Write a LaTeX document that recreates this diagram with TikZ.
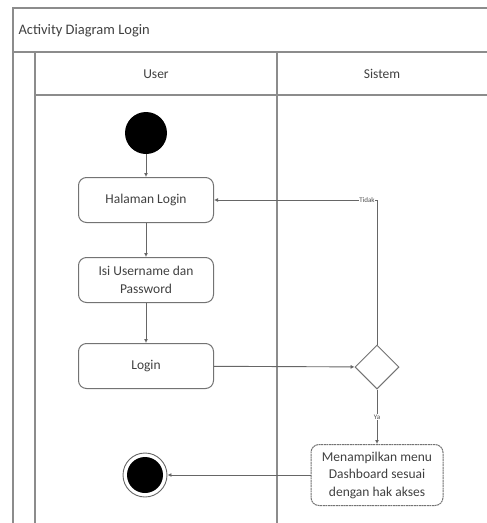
\documentclass[tikz,border=0pt]{standalone}
\usepackage{fontspec}
\setmainfont{Carlito}
\usetikzlibrary{shapes.geometric,arrows.meta}
\begin{document}
\begin{tikzpicture}[x=1pt,y=-1pt,
  frame/.style={draw=black!45,line width=1.3pt},
  txt/.style={font=\fontsize{13.5}{17.5}\selectfont,text=black!75},
  act/.style={txt,draw=black!55,line width=1pt,rounded corners=8pt,minimum width=135pt,minimum height=45pt,align=center},
  flow/.style={draw=black!60,line width=0.9pt,-{Latex[length=4pt,width=4pt]}},
  lbl/.style={font=\fontsize{7}{8}\selectfont,text=black!70,fill=white,inner sep=0.5pt}]
\useasboundingbox (0,0) rectangle (487,523);
% swimlane frame (open at the right and bottom)
\draw[frame] (13,523) -- (13,8) -- (487,8);
\draw[frame] (13,52) -- (487,52);
\draw[frame] (35,95) -- (487,95);
\draw[frame] (35,52) -- (35,523);
\draw[frame] (277,52) -- (277,523);
\node[txt,font=\fontsize{14.5}{16}\selectfont,anchor=west] (title) at (15,31) {Activity Diagram Login};
\node[txt] (laneU) at (156,74) {User};
\node[txt] (laneS) at (382,74) {Sistem};
% activity nodes
\node[circle,fill=black,minimum size=42pt,inner sep=0pt] (start) at (146,133) {};
\node[act] (halaman) at (146,200) {Halaman Login};
\node[act] (isi) at (146,280) {Isi Username dan\\Password};
\node[act] (login) at (146,366) {Login};
\node[diamond,draw=black!55,line width=1pt,fill=white,minimum width=44pt,minimum height=44pt,inner sep=0pt] (dec) at (377,367) {};
\node[act,minimum width=132pt,minimum height=61pt,dash pattern=on 2pt off 0.6pt] (menu) at (377,475) {Menampilkan menu\\Dashboard sesuai\\dengan hak akses};
\node[circle,draw=black!60,line width=0.9pt,fill=white,minimum size=44pt,inner sep=0pt] (end) at (145,475) {};
\node[circle,fill=black,minimum size=36pt,inner sep=0pt] (endin) at (145,475) {};
% connectors
\draw[flow] (start) -- (halaman);
\draw[flow] (halaman) -- (isi);
\draw[flow] (isi) -- (login);
\draw[flow] (login) -- (dec);
\coordinate (turn) at (377,200);
\draw[flow] (dec.north) -- (turn) -- (halaman.east);
\node[lbl] (tidak) at (367,200) {Tidak};
\draw[flow] (dec.south) -- (menu.north);
\node[lbl] (ya) at (377,417) {Ya};
\draw[flow] (menu.west) -- (end.east);
\end{tikzpicture}
\end{document}
